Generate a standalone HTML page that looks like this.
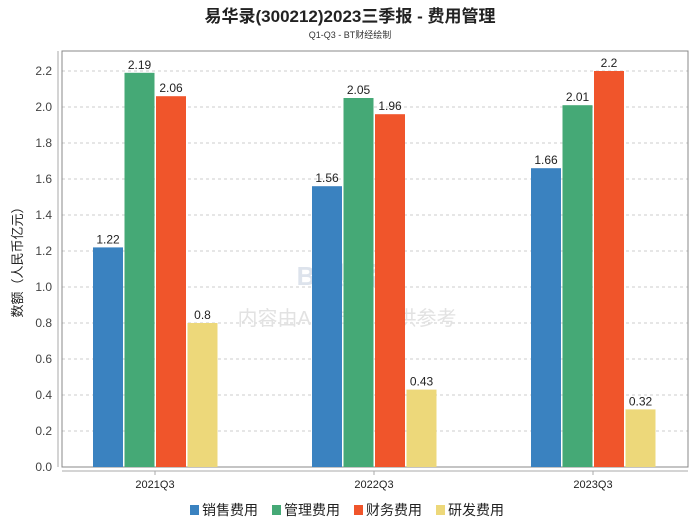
<!DOCTYPE html>
<html><head><meta charset="utf-8"><style>
body{margin:0;background:#fff;}
svg text{font-family:"Liberation Sans","Noto Sans CJK SC",sans-serif;}
</style></head><body>
<svg width="700" height="524" xmlns="http://www.w3.org/2000/svg">
<text x="350" y="22" text-anchor="middle" font-size="17" font-weight="bold" fill="#222">易华录(300212)2023三季报 - 费用管理</text>
<text x="350" y="38" text-anchor="middle" font-size="9" fill="#333">Q1-Q3 - BT财经绘制</text>
<g id="grid"></g>
<rect x="62" y="51" width="626" height="416" fill="none" stroke="#888" stroke-width="1"/>
<line x1="58" y1="51" x2="58" y2="467" stroke="#aaa"/>
<line x1="62" y1="471" x2="688" y2="471" stroke="#aaa"/>
<text x="340" y="285" text-anchor="middle" font-size="26" fill="#dde3ec" font-weight="bold">BT财经</text>
<text x="347" y="325" text-anchor="middle" font-size="20" fill="#e2e2e2">内容由AI生成，仅供参考</text>
<g id="bars"></g>
<text transform="translate(22,259) rotate(-90)" text-anchor="middle" font-size="13" fill="#222">数额（人民币亿元）</text>
<g id="legend"></g>
</svg>
<script>
const categories=["2021Q3","2022Q3","2023Q3"];
const seriesNames=["销售费用","管理费用","财务费用","研发费用"];
const sales=[1.22,1.56,1.66];
const admin=[2.19,2.05,2.01];
const finance=[2.06,1.96,2.2];
const rnd=[0.8,0.43,0.32];
const yTicks=[0,0.2,0.4,0.6,0.8,1.0,1.2,1.4,1.6,1.8,2.0,2.2];
const colors=["#3a82c0","#45a976","#f0552b","#edd87a"];
const NS="http://www.w3.org/2000/svg";
const y=v=>467-v*180;
const x=i=>155+i*219;
function mk(t,a,p){const e=document.createElementNS(NS,t);for(const k in a)e.setAttribute(k,a[k]);p.appendChild(e);return e;}
const grid=document.getElementById('grid');
yTicks.forEach(t=>{
 if(t>0){const l=mk('line',{x1:62,x2:688,y1:y(t),y2:y(t),stroke:'#ccc','stroke-dasharray':'3,3'},grid);
 
 }
 const tx=mk('text',{x:52,y:y(t)+4,'text-anchor':'end','font-size':12,fill:'#444'},grid);
 tx.textContent=t.toFixed(1);
 
 
});
const bars=document.getElementById('bars');
const series=[sales,admin,finance,rnd];
categories.forEach((c,i)=>{
 series.forEach((s,j)=>{
  const bx=x(i)-62+j*31.5;
  const r=mk('rect',{x:bx,y:y(s[i]),width:30,height:467-y(s[i]),fill:colors[j]},bars);
  
  
  const t=mk('text',{x:bx+15,y:y(s[i])-4,'text-anchor':'middle','font-size':12,fill:'#222'},bars);
  t.textContent=String(s[i]);
  
  
 });
 mk('line',{x1:x(i),x2:x(i),y1:471,y2:475,stroke:'#aaa'},bars);
 const t=mk('text',{x:x(i),y:488,'text-anchor':'middle','font-size':11,fill:'#222'},bars);
 t.textContent=c;
 
 
});
const lg=document.getElementById('legend');
const lx=[190,272,354,436];
seriesNames.forEach((n,j)=>{
 const g=mk('g',{},lg);
 
 
 mk('rect',{x:lx[j],y:505,width:9,height:10,fill:colors[j]},g);
 const t=mk('text',{x:lx[j]+12,y:515,'font-size':14,fill:'#222'},g);
 t.textContent=n;
});
</script>
</body></html>
